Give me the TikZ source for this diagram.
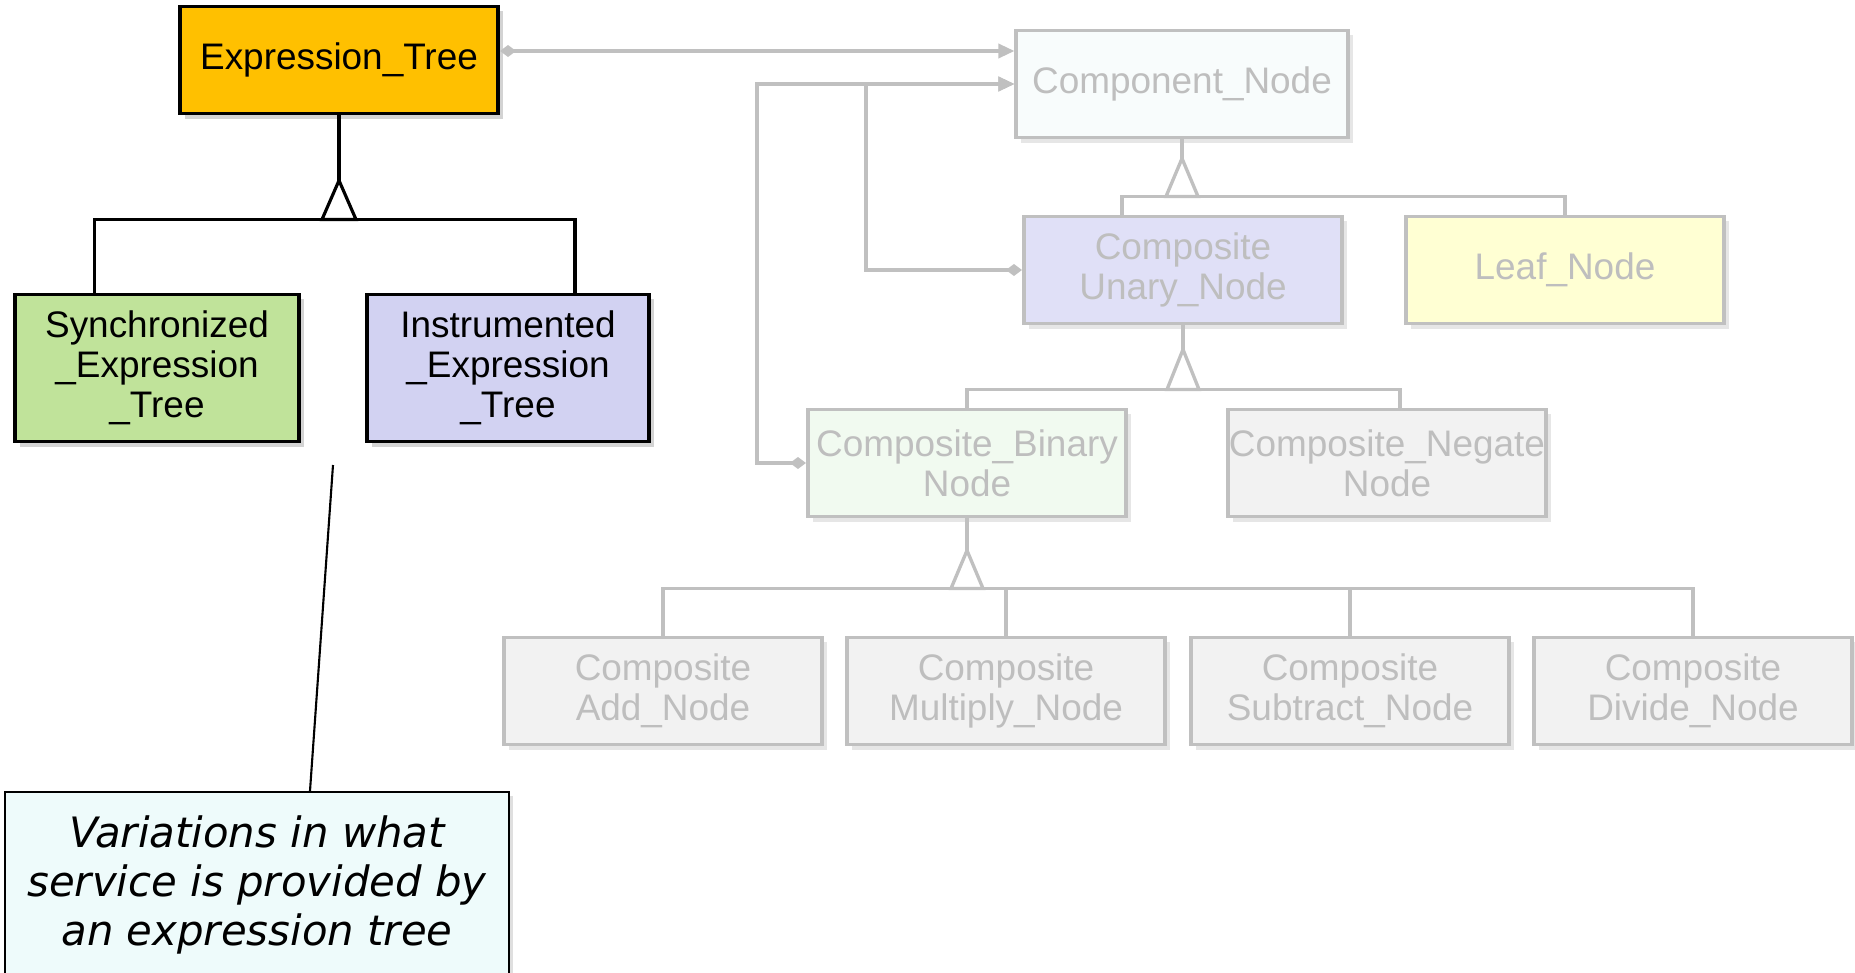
\documentclass[tikz,border=0pt]{standalone}
\usepackage{fontspec}
\setmainfont{Liberation Sans}
\newfontfamily\notefont{DejaVu Sans}
\usetikzlibrary{arrows.meta,calc,shadows}

\definecolor{exprgold}{HTML}{FFC000}
\definecolor{syncgreen}{HTML}{C0E39A}
\definecolor{instrblue}{HTML}{D2D2F2}
\definecolor{fadeline}{HTML}{C0C0C0}
\definecolor{fadetext}{HTML}{BEBEBE}
\definecolor{compfill}{HTML}{F8FCFC}
\definecolor{unaryfill}{HTML}{E0E0F7}
\definecolor{leaffill}{HTML}{FFFFD3}
\definecolor{binfill}{HTML}{F1FAF0}
\definecolor{opfill}{HTML}{F2F2F2}
\definecolor{notefill}{HTML}{EEFBFB}

\begin{document}
\begin{tikzpicture}[x=0.01cm,y=-0.01cm]
      \useasboundingbox (0,0) rectangle (1855,973);
      \clip (0,0) rectangle (1855,973);
      \tikzset{
      ClassStyle/.style = {draw, line width=1.1pt, inner sep=0pt, align=center,
        font=\fontsize{10.5}{11.4}\selectfont},
      BoldClass/.style = {ClassStyle,
        drop shadow={shadow xshift=0.05cm, shadow yshift=-0.05cm, opacity=0.35}},
      FadedStyle/.style = {ClassStyle, draw=fadeline, text=fadetext,
        minimum width=3.18cm, minimum height=1.07cm,
        drop shadow={shadow xshift=0.05cm, shadow yshift=-0.05cm, opacity=0.2}},
      NoteStyle/.style = {draw, line width=0.6pt, fill=notefill, align=center,
        inner sep=0pt, font=\notefont\itshape\fontsize{11.9}{13.9}\selectfont,
        drop shadow={shadow xshift=0.04cm, shadow yshift=-0.04cm, opacity=0.25}},
      GenLine/.style = {line width=0.9pt},
      FadedLine/.style = {line width=0.95pt, draw=fadeline},
      AggLine/.style = {FadedLine,
        {Diamond[length=0.16cm,width=0.12cm,fill=fadeline]}-{Triangle[length=0.16cm,width=0.14cm,fill=fadeline]}},
      NoteLine/.style = {line width=0.6pt}
      }

      \node[BoldClass, fill=exprgold, minimum width=3.18cm, minimum height=1.07cm]
        (expr) at (339,60) {Expression\_Tree};
      \node[BoldClass, fill=syncgreen, minimum width=2.83cm, minimum height=1.47cm]
        (sync) at (157,368) {Synchronized\\\_Expression\\\_Tree};
      \node[BoldClass, fill=instrblue, minimum width=2.82cm, minimum height=1.47cm]
        (instr) at (508,368) {Instrumented\\\_Expression\\\_Tree};

      \node[FadedStyle, fill=compfill, minimum width=3.31cm] (comp) at (1182,84) {Component\_Node};
      \node[FadedStyle, fill=unaryfill] (unary) at (1183,270) {Composite\\Unary\_Node};
      \node[FadedStyle, fill=leaffill] (leaf) at (1565,270) {Leaf\_Node};
      \node[FadedStyle, fill=binfill] (bin) at (967,463) {Composite\_Binary\\Node};
      \node[FadedStyle, fill=opfill] (neg) at (1387,463) {Composite\_Negate\\Node};
      \node[FadedStyle, fill=opfill] (add) at (663,691) {Composite\\Add\_Node};
      \node[FadedStyle, fill=opfill] (mul) at (1006,691) {Composite\\Multiply\_Node};
      \node[FadedStyle, fill=opfill] (sub) at (1350,691) {Composite\\Subtract\_Node};
      \node[FadedStyle, fill=opfill] (div) at (1693,691) {Composite\\Divide\_Node};

      \node[NoteStyle, minimum width=5.04cm, minimum height=1.86cm]
        (note) at (257,885) {Variations in what\\service is provided by\\an expression tree};

      \draw[GenLine] (expr.south) -- ++(0,104) coordinate (e1);
      \draw[GenLine] ($(sync.north west)+(81,0)$) |- (e1) -| ($(instr.north west)+(210,0)$);
      \draw[GenLine, fill=white] (e1) ++(-17,0) -- ++(17,-39) -- ++(17,39) -- cycle;

      \draw[FadedLine] (comp.south) -- ++(0,57) coordinate (c1);
      \draw[FadedLine] ($(unary.north)+(-61,0)$) |- (c1) -| (leaf.north);
      \draw[FadedLine, fill=white] (c1) ++(-16,0) -- ++(16,-38) -- ++(16,38) -- cycle;

      \draw[FadedLine] (unary.south) -- ++(0,64) coordinate (u1);
      \draw[FadedLine] (bin.north) |- (u1) -| ($(neg.north)+(13,0)$);
      \draw[FadedLine, fill=white] (u1) ++(-16,0) -- ++(16,-40) -- ++(16,40) -- cycle;

      \draw[FadedLine] (bin.south) -- ++(0,70) coordinate (b1);
      \draw[FadedLine] (add.north) |- (b1) -| (div.north);
      \draw[FadedLine] (mul.north) -- (mul.north |- b1);
      \draw[FadedLine] (sub.north) -- (sub.north |- b1);
      \draw[FadedLine, fill=white] (b1) ++(-16,0) -- ++(16,-38) -- ++(16,38) -- cycle;

      \draw[AggLine] ($(expr.east)+(0,-9)$) coordinate (a1) -- (a1 -| comp.west);
      \draw[AggLine] (unary.west) -- ++(-156,0) |- (comp.west);
      \draw[AggLine] (bin.west) -- ++(-49,0) |- (comp.west);

      \coordinate (hint) at (333,465);
      \draw[NoteLine] (hint) -- ($(note.north)+(53,0)$);
\end{tikzpicture}
\end{document}
